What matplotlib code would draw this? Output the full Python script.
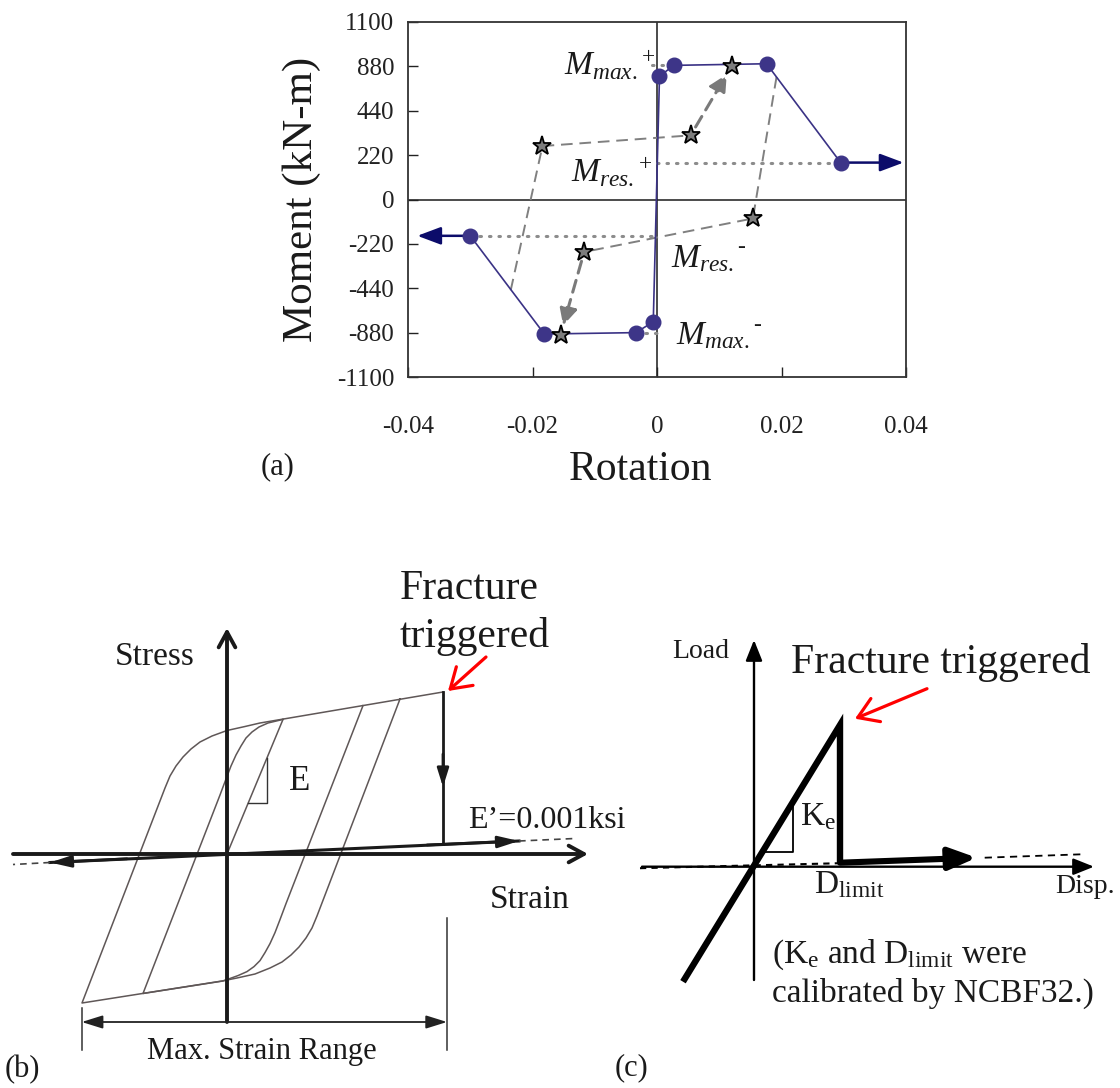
import numpy as np
import matplotlib
matplotlib.use("Agg")
import matplotlib.pyplot as plt

plt.rcParams["font.family"] = ["Liberation Serif", "DejaVu Serif"]
plt.rcParams["mathtext.fontset"] = "custom"
plt.rcParams["mathtext.rm"] = "Liberation Serif"
plt.rcParams["mathtext.it"] = "Liberation Serif:italic"
plt.rcParams["mathtext.bf"] = "Liberation Serif:bold"

# ---------------- (a) moment-rotation backbone ----------------
rotation_env = [-0.030, -0.0181, -0.0034, -0.0006, 0.0004, 0.0027, 0.0176, 0.0295]
moment_env = [-180, -887, -880, -773, 782, 885, 893, 183]

# cyclic excursions (first point lies on the backbone, others are stars)
rot_cyc_pos = [-0.0235, -0.0184, 0.0054, 0.0120]
mom_cyc_pos = [-460, 265, 318, 882]
rot_cyc_neg = [0.0192, 0.0154, -0.0117, -0.0155]
mom_cyc_neg = [775, -94, -260, -891]

x_ticks = [-0.04, -0.02, 0, 0.02, 0.04]
x_tick_labels = ["-0.04", "-0.02", "0", "0.02", "0.04"]
y_ticks = [-1100, -880, -440, -220, 0, 220, 440, 880, 1100]
y_tick_labels = ["-1100", "-880", "-440", "-220", "0", "220", "440", "880", "1100"]
y_tick_slots = [-4, -3, -2, -1, 0, 1, 2, 3, 4]

# ---------------- (b) cyclic material model (schematic units) ----------------
outer_loop_x = [173, 90, 85, 79, 72, 64, 55, 43, 28, 10, -5, -145,
                -62, -57, -51, -44, -36, -27, -15, 0, 18, 33, 216]
outer_loop_y = [155, -62, -74, -84, -93, -101, -108, -114, -120, -124, -127, -149,
                66, 78, 88, 97, 105, 112, 118, 123.5, 127.5, 131, 162]
inner_loop_x = [136, 59, 53, 48, 43, 38, 33, 27, 20, 11, -4, -84,
                -7, -1, 4, 9, 14, 19, 25, 32, 41, 56]
inner_loop_y = [148.4, -49.6, -65.6, -78.6, -89.6, -98.6, -106.6, -112.6, -117.6, -121.6, -127, -139.5,
                59, 75, 88, 99, 108, 116, 122, 127, 131, 134.6]
initial_x = [0, 56]
initial_y = [0, 134.6]
fracture_b = (216, 162)
residual_b_x = [-177, 292]
residual_b_y = [-8.5, 13]

# ---------------- (c) fracture spring (schematic units) ----------------
spring_x = [-71, 86, 86]
spring_y = [-115, 141.7, 4]
post_x = [86, 222.7]
post_y = [4, 9]

NAVY_LINE = "#3a3285"
NAVY_DOT = "#3d3588"
NAVY_ARROW = "#0c0c6a"
GREY = "#808080"
LOOP = "#5f5757"

W, H = 1120, 1088
fig = plt.figure(figsize=(W / 100, H / 100), dpi=100)


def fx(px):
    return px / W


def fy(py):
    return 1 - py / H


# ======================= panel (a) =======================
ax = fig.add_axes([fx(408), fy(377), 498 / W, 355 / H])


def _fwd(v):
    v = np.asarray(v, dtype=float)
    out = np.interp(v, y_ticks, y_tick_slots)
    out = np.where(v > 1100, 4 + (v - 1100) / 220, out)
    out = np.where(v < -1100, -4 + (v + 1100) / 220, out)
    return out


def _inv(s):
    s = np.asarray(s, dtype=float)
    out = np.interp(s, y_tick_slots, y_ticks)
    out = np.where(s > 4, 1100 + (s - 4) * 220, out)
    out = np.where(s < -4, -1100 + (s + 4) * 220, out)
    return out


ax.set_yscale("function", functions=(_fwd, _inv))
ax.set_xlim(-0.04, 0.04)
ax.set_ylim(-1100, 1100)
ax.set_xticks(x_ticks)
ax.set_xticklabels(x_tick_labels)
ax.set_yticks(y_ticks)
ax.set_yticklabels(y_tick_labels)
ax.minorticks_off()
ax.tick_params(axis="both", direction="in", length=7, width=1.0, labelsize=18,
               colors="#222222")
ax.tick_params(axis="x", pad=28)
ax.tick_params(axis="y", pad=10)
for sp in ax.spines.values():
    sp.set_linewidth(1.3)
    sp.set_color("#333333")

ax.axhline(0, color="#1a1a1a", lw=1.1, zorder=1)
ax.axvline(0, color="#1a1a1a", lw=1.1, zorder=1)

dot_style = dict(color="#8c8c8c", lw=2.2, ls=(0, (0.5, 2.6)), dash_capstyle="round", zorder=2)
ax.plot([-0.0008, 0.0027], [888, 888], **dot_style)
ax.plot([0, rotation_env[-1]], [moment_env[-1], moment_env[-1]], **dot_style)
ax.plot([rotation_env[0], 0], [moment_env[0], moment_env[0]], **dot_style)
ax.plot([rotation_env[2], 0.0003], [-884, -884], **dot_style)

dash_style = dict(color=GREY, lw=1.4, ls=(0, (6, 3.5)), zorder=2)
ax.plot(rot_cyc_pos[:3], mom_cyc_pos[:3], **dash_style)
ax.plot(rot_cyc_neg[:3], mom_cyc_neg[:3], **dash_style)
for rx, my in ((rot_cyc_pos, mom_cyc_pos), (rot_cyc_neg, mom_cyc_neg)):
    ax.annotate("", xy=(rx[3], my[3]), xytext=(rx[2], my[2]),
                arrowprops=dict(arrowstyle="-|>,head_length=0.6,head_width=0.3",
                                color="#7a7a7a", lw=2.2, ls=(0, (4, 2.5)),
                                shrinkA=7, shrinkB=7, mutation_scale=18), zorder=3)

ax.plot(rotation_env, moment_env, color=NAVY_LINE, lw=1.2, zorder=3)
ax.plot(rotation_env, moment_env, "o", ms=10.5, color=NAVY_DOT, zorder=4)
ax.annotate("", xy=(-0.0385, moment_env[0]), xytext=(rotation_env[0], moment_env[0]),
            arrowprops=dict(arrowstyle="-|>,head_length=0.8,head_width=0.3",
                            color=NAVY_ARROW, lw=1.8, shrinkA=0, shrinkB=0,
                            mutation_scale=18), zorder=3)
ax.annotate("", xy=(0.0396, moment_env[-1]), xytext=(rotation_env[-1], moment_env[-1]),
            arrowprops=dict(arrowstyle="-|>,head_length=0.8,head_width=0.3",
                            color=NAVY_ARROW, lw=1.8, shrinkA=0, shrinkB=0,
                            mutation_scale=18), zorder=3)
ax.plot(rot_cyc_pos[1:], mom_cyc_pos[1:], "*", ms=14, mfc="#7d7d7d", mec="black",
        mew=1.3, zorder=5)
ax.plot(rot_cyc_neg[1:], mom_cyc_neg[1:], "*", ms=14, mfc="#7d7d7d", mec="black",
        mew=1.3, zorder=5)

lab = dict(fontsize=24, color="#1a1a1a", ha="left", va="baseline")
fig.text(fx(564), fy(74), r"$M_{max.}{}^{+}$", **lab)
fig.text(fx(571), fy(181), r"$M_{res.}{}^{+}$", **lab)
fig.text(fx(671), fy(267), r"$M_{res.}$", **lab)
fig.text(fx(676), fy(344), r"$M_{max.}$", **lab)
sup = dict(fontsize=17, color="#1a1a1a", ha="center", va="center")
fig.text(fx(741), fy(247), "-", **sup)
fig.text(fx(757), fy(325), "-", **sup)

fig.text(fx(302), fy(199), "Moment (kN-m)", rotation=90, fontsize=31,
         ha="center", va="center", color="#1a1a1a")
fig.text(fx(640), fy(470), "Rotation", fontsize=30, ha="center", va="center",
         color="#1a1a1a")
fig.text(fx(278), fy(467), "(a)", fontsize=22, ha="center", va="center", color="#1a1a1a")

# ======================= panel (b) =======================
axb = fig.add_axes([0, 0, 610 / W, 528 / H])
axb.set_xlim(-227, 383)
axb.set_ylim(-234, 294)
axb.axis("off")

axb.plot(outer_loop_x, outer_loop_y, color=LOOP, lw=1.1, zorder=2)
axb.plot(inner_loop_x, inner_loop_y, color=LOOP, lw=1.1, zorder=2)
axb.plot(initial_x, initial_y, color=LOOP, lw=1.1, zorder=2)
axb.plot([21, 40, 40], [51, 51, 96], color="#333333", lw=1.0, zorder=2)

ax_arrow = dict(arrowstyle="->,head_length=0.55,head_width=0.3", color="#1a1a1a",
                lw=2.8, shrinkA=0, shrinkB=0, mutation_scale=20)
axb.annotate("", xy=(361, 0), xytext=(-214, 0), arrowprops=ax_arrow, zorder=3)
axb.annotate("", xy=(0, 226), xytext=(0, -168), arrowprops=ax_arrow, zorder=3)

# fracture drop and residual branch
axb.plot([fracture_b[0], fracture_b[0]], [fracture_b[1], 10], color="#1a1a1a", lw=2.0, zorder=3)
axb.annotate("", xy=(fracture_b[0], 67), xytext=(fracture_b[0], 100),
             arrowprops=dict(arrowstyle="-|>,head_length=0.8,head_width=0.25",
                             color="#1a1a1a", lw=2.0, shrinkA=0, shrinkB=0,
                             mutation_scale=14), zorder=3)
axb.plot(residual_b_x, residual_b_y, color="#1a1a1a", lw=2.2, zorder=3)
axb.annotate("", xy=(residual_b_x[1], residual_b_y[1]), xytext=(200, 9),
             arrowprops=dict(arrowstyle="-|>,head_length=0.9,head_width=0.25",
                             color="#1a1a1a", lw=2.0, shrinkA=0, shrinkB=0,
                             mutation_scale=14), zorder=3)
axb.annotate("", xy=(residual_b_x[0], residual_b_y[0]), xytext=(-100, -4.8),
             arrowprops=dict(arrowstyle="-|>,head_length=0.9,head_width=0.25",
                             color="#1a1a1a", lw=2.0, shrinkA=0, shrinkB=0,
                             mutation_scale=14), zorder=3)
axb.plot([292, 348], [13, 15.5], color="#444444", lw=1.2, ls=(0, (4, 3)), zorder=3)
axb.plot([-177, -214], [-8.5, -10.5], color="#444444", lw=1.2, ls=(0, (4, 3)), zorder=3)

# strain range dimension
axb.annotate("", xy=(-145.3, -168), xytext=(220, -168),
             arrowprops=dict(arrowstyle="<|-|>,head_length=0.8,head_width=0.25",
                             color="#222222", lw=1.3, shrinkA=0, shrinkB=0,
                             mutation_scale=16), zorder=3)
axb.plot([-145.3, -145.3], [-154, -196], color="#333333", lw=1.1)
axb.plot([220, 220], [-64, -196], color="#333333", lw=1.1)

axb.annotate("", xy=(221, 163), xytext=(259, 197),
             arrowprops=dict(arrowstyle="->,head_length=0.7,head_width=0.45",
                             color="red", lw=2.3, shrinkA=0, shrinkB=0,
                             mutation_scale=20), zorder=4)

tb = dict(color="#1a1a1a", clip_on=False)
axb.text(-72, 197, "Stress", fontsize=24, ha="center", va="center", **tb)
axb.text(303, -46, "Strain", fontsize=24, ha="center", va="center", **tb)
axb.text(73, 72, "E", fontsize=25, ha="center", va="center", **tb)
axb.text(173, 265, "Fracture", fontsize=30, ha="left", va="center", **tb)
axb.text(173, 218, "triggered", fontsize=30, ha="left", va="center", **tb)
axb.text(241, 34, "E\u2019=0.001ksi", fontsize=23, ha="left", va="center", **tb)
axb.text(35, -198, "Max. Strain Range", fontsize=22, ha="center", va="center", **tb)
axb.text(-205, -216, "(b)", fontsize=22, ha="center", va="center", **tb)

# ======================= panel (c) =======================
axc = fig.add_axes([610 / W, 0, 510 / W, 488 / H])
axc.set_xlim(-144, 366)
axc.set_ylim(-221.3, 266.7)
axc.axis("off")

c_arrow = dict(arrowstyle="-|>,head_length=0.7,head_width=0.28", color="black",
               lw=1.7, shrinkA=0, shrinkB=0, mutation_scale=18)
axc.annotate("", xy=(340, 0), xytext=(-112, 0), arrowprops=c_arrow, zorder=2)
axc.annotate("", xy=(0, 226.7), xytext=(0, -113.3), arrowprops=c_arrow, zorder=2)

axc.plot([-114, 86], [-1.5, 3.5], color="black", lw=1.5, ls=(0, (3, 2.5)), zorder=3)
axc.plot(spring_x, spring_y, color="black", lw=4.6, solid_joinstyle="miter",
         solid_capstyle="butt", zorder=4)
axc.annotate("", xy=(post_x[1], post_y[1]), xytext=(post_x[0], post_y[0]),
             arrowprops=dict(arrowstyle="-|>,head_length=0.75,head_width=0.3",
                             color="black", lw=4.4, shrinkA=0, shrinkB=0,
                             mutation_scale=22), zorder=4)
axc.plot([post_x[1] + 8, 327.7], [post_y[1], 12.4], color="black", lw=1.3,
         ls=(0, (4, 3)), zorder=3)
axc.plot([10, 39, 39], [15, 15, 67], color="black", lw=1.3, zorder=3)

axc.annotate("", xy=(101, 148), xytext=(173, 178),
             arrowprops=dict(arrowstyle="->,head_length=0.7,head_width=0.45",
                             color="red", lw=2.3, shrinkA=0, shrinkB=0,
                             mutation_scale=20), zorder=5)

tc = dict(color="#1a1a1a", clip_on=False)
axc.text(-53, 214.7, "Load", fontsize=20, ha="center", va="center", **tc)
axc.text(186.5, 204.7, "Fracture triggered", fontsize=30, ha="center", va="center", **tc)
axc.text(46, 50, r"$\mathrm{K}_{\mathrm{e}}$", fontsize=24, ha="left", va="center", **tc)
axc.text(60, -18, r"$\mathrm{D}_{\mathrm{limit}}$", fontsize=24, ha="left", va="center", **tc)
axc.text(301, -20, "Disp.", fontsize=20, ha="left", va="center", **tc)
axc.text(17.7, -88.3, r"(K$_{\mathrm{e}}$ and D$_{\mathrm{limit}}$ were", fontsize=24,
         ha="left", va="center", **tc)
axc.text(17.7, -126.3, "calibrated by NCBF32.)", fontsize=24, ha="left", va="center", **tc)
axc.text(-122, -201.3, "(c)", fontsize=22, ha="center", va="center", **tc)

fig.savefig("out.png", dpi=100)
